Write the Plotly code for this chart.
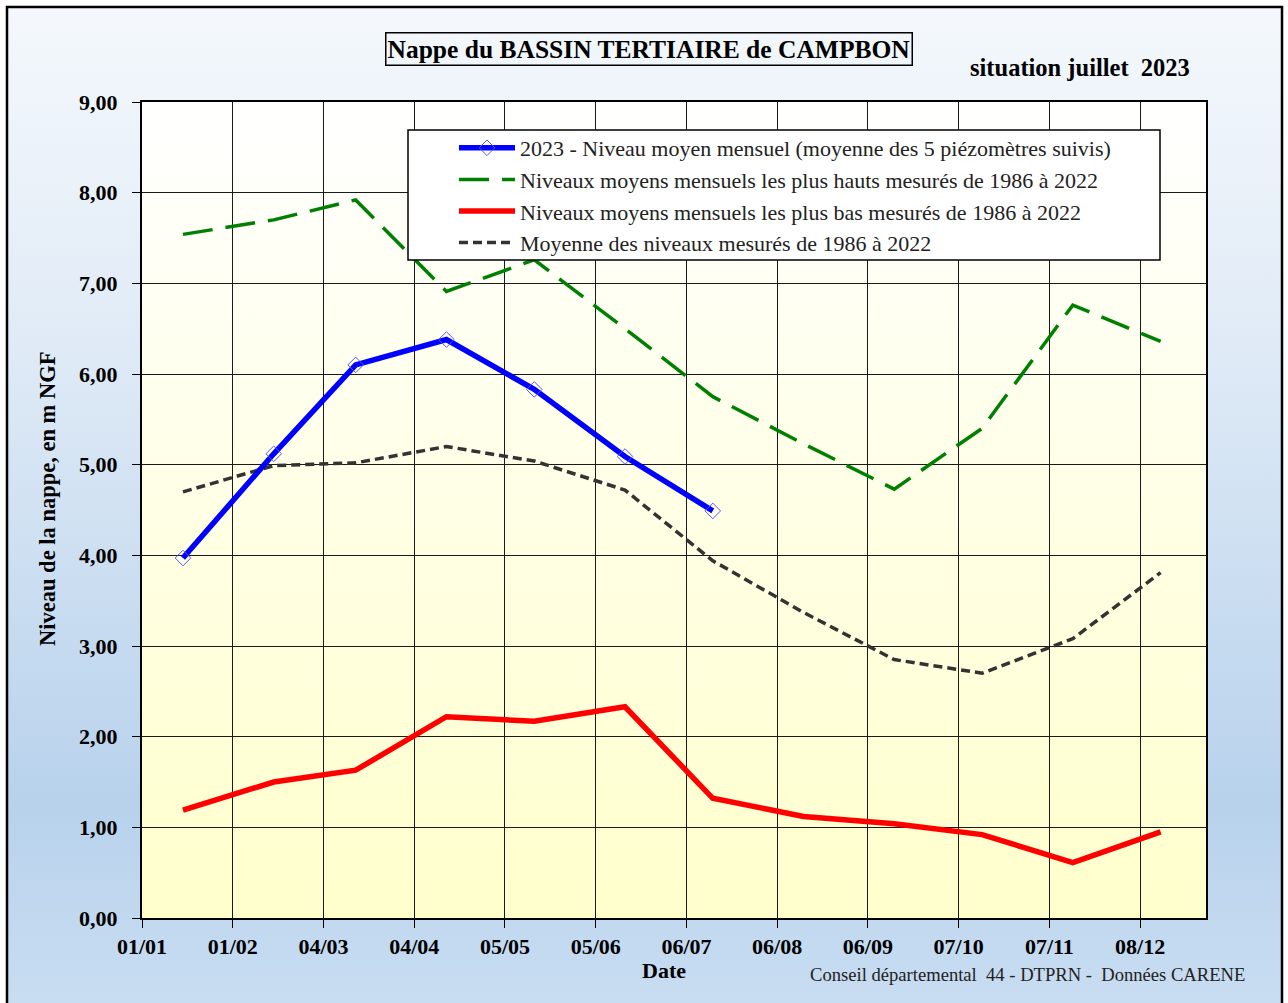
import base64
import plotly.graph_objects as go

# ---------------- data ----------------
month_dates = ['2023-01-15', '2023-02-15', '2023-03-15', '2023-04-15', '2023-05-15', '2023-06-15',
               '2023-07-15', '2023-08-15', '2023-09-15', '2023-10-15', '2023-11-15', '2023-12-15']
niveau_2023 = [3.97, 5.12, 6.10, 6.38, 5.83, 5.09, 4.49]
niveaux_max = [7.54, 7.70, 7.92, 6.91, 7.26, 6.50, 5.75, 5.23, 4.73, 5.40, 6.76, 6.36]
niveaux_min = [1.19, 1.50, 1.63, 2.22, 2.17, 2.33, 1.32, 1.12, 1.04, 0.92, 0.61, 0.95]
niveaux_moy = [4.70, 4.99, 5.02, 5.20, 5.04, 4.72, 3.94, 3.37, 2.85, 2.70, 3.08, 3.81]

tick_dates = ['2023-01-01', '2023-02-01', '2023-03-04', '2023-04-04', '2023-05-05', '2023-06-05',
              '2023-07-06', '2023-08-06', '2023-09-06', '2023-10-07', '2023-11-07', '2023-12-08']
tick_labels = ['01/01', '01/02', '04/03', '04/04', '05/05', '05/06',
               '06/07', '06/08', '06/09', '07/10', '07/11', '08/12']
y_ticks = [0, 1, 2, 3, 4, 5, 6, 7, 8, 9]

names = ['2023 - Niveau moyen mensuel (moyenne des 5 piézomètres suivis)',
         'Niveaux moyens mensuels les plus hauts mesurés de 1986 à 2022',
         'Niveaux moyens mensuels les plus bas mesurés de 1986 à 2022',
         'Moyenne des niveaux mesurés de 1986 à 2022']

SERIF = 'Liberation Serif, Times New Roman, serif'
W, H = 1288, 1003
L, R, T, B = 142, 1206, 102, 918
PW, PH = R - L, B - T


def px(xp):
    return (xp - L) / PW


def py(yp):
    return (B - yp) / PH


# background (gradients) as an SVG image
svg = f'''<svg xmlns="http://www.w3.org/2000/svg" width="{W}" height="{H}" viewBox="0 0 {W} {H}" preserveAspectRatio="none">
<defs>
<linearGradient id="o" x1="0" y1="0" x2="0" y2="1">
<stop offset="0" stop-color="#f4f8fc"/><stop offset="0.3" stop-color="#e2ecf7"/>
<stop offset="0.78" stop-color="#b8d2ec"/><stop offset="1" stop-color="#cadef2"/></linearGradient>
<linearGradient id="p" x1="0" y1="0" x2="0" y2="1">
<stop offset="0" stop-color="#ffffff"/><stop offset="1" stop-color="#ffffcc"/></linearGradient>
</defs>
<rect width="{W}" height="{H}" fill="#ffffff"/>
<rect x="7" y="7" width="1275" height="1020" fill="url(#o)" stroke="#000" stroke-width="2.5"/>
<rect x="{L}" y="{T}" width="{PW}" height="{PH}" fill="url(#p)"/>
</svg>'''
svg_uri = 'data:image/svg+xml;base64,' + base64.b64encode(svg.encode()).decode()

fig = go.Figure()

fig.add_trace(go.Scatter(x=month_dates, y=niveaux_moy, name=names[3], mode='lines', legendrank=4,
                         line=dict(color='#333333', width=3.5, dash='9px,5px')))
fig.add_trace(go.Scatter(x=month_dates, y=niveaux_max, name=names[1], mode='lines', legendrank=2,
                         line=dict(color='#008000', width=3.5, dash='30px,13px')))
fig.add_trace(go.Scatter(x=month_dates, y=niveaux_min, name=names[2], mode='lines', legendrank=3,
                         line=dict(color='#ff0000', width=5.5)))
fig.add_trace(go.Scatter(x=month_dates[:len(niveau_2023)], y=niveau_2023, name=names[0],
                         mode='lines+markers', legendrank=1,
                         line=dict(color='#0000ff', width=5.5),
                         marker=dict(symbol='diamond-open', size=12, color='#5555ff',
                                     line=dict(width=1, color='#5555ff'))))

axis_font = dict(family=SERIF, size=22, color='#000000', weight='bold')

fig.update_layout(
    width=W, height=H,
    margin=dict(l=L, r=W - R, t=T, b=H - B, pad=0),
    paper_bgcolor='rgba(0,0,0,0)',
    plot_bgcolor='rgba(0,0,0,0)',
    separators=', ',
    showlegend=True,
    legend=dict(x=px(454), y=py(127), xanchor='left', yanchor='top',
                bgcolor='rgba(0,0,0,0)', borderwidth=0, itemwidth=56,
                font=dict(family=SERIF, size=22, color='#222222'),
                itemclick=False, itemdoubleclick=False),
    xaxis=dict(type='date', range=['2023-01-01', '2023-12-30 12:00'],
               tickmode='array', tickvals=tick_dates, ticktext=tick_labels,
               ticks='outside', ticklen=8, tickcolor='#000', tickwidth=1,
               tickfont=axis_font, showgrid=True, gridcolor='#1a1a1a', gridwidth=1,
               showline=True, linecolor='#000', linewidth=2, mirror=True, zeroline=False),
    yaxis=dict(range=[0, 9], tickmode='array', tickvals=y_ticks, tickformat='.2f',
               ticks='outside', ticklen=8, tickcolor='#000', tickwidth=1, ticklabelstandoff=10,
               tickfont=axis_font, showgrid=True, gridcolor='#1a1a1a', gridwidth=1,
               showline=True, linecolor='#000', linewidth=2, mirror=True, zeroline=False),
    images=[dict(source=svg_uri, xref='paper', yref='paper', x=px(0), y=py(0),
                 sizex=W / PW, sizey=H / PH, xanchor='left', yanchor='top',
                 sizing='stretch', layer='below')],
    shapes=[dict(type='rect', xref='paper', yref='paper', x0=px(408), x1=px(1160),
                 y0=py(260), y1=py(130), fillcolor='#ffffff',
                 line=dict(color='#000', width=1.5), layer='above')],
    annotations=[
        dict(text='Nappe du BASSIN TERTIAIRE de CAMPBON', xref='paper', yref='paper',
             x=px(648.5), y=py(49.5), xanchor='center', yanchor='middle', showarrow=False,
             font=dict(family=SERIF, size=25.5, color='#000', weight='bold'),
             bordercolor='#000', borderwidth=1.5, borderpad=1),
        dict(text='situation juillet  2023', xref='paper', yref='paper',
             x=px(1080), y=py(68), xanchor='center', yanchor='middle', showarrow=False,
             font=dict(family=SERIF, size=24.5, color='#000', weight='bold')),
        dict(text='Date', xref='paper', yref='paper',
             x=px(664), y=py(970), xanchor='center', yanchor='middle', showarrow=False,
             font=dict(family=SERIF, size=22, color='#000', weight='bold')),
        dict(text='Niveau de la nappe, en m NGF', xref='paper', yref='paper', textangle=-90,
             x=px(47), y=py(499), xanchor='center', yanchor='middle', showarrow=False,
             font=dict(family=SERIF, size=22.5, color='#000', weight='bold')),
        dict(text='Conseil départemental  44 - DTPRN -  Données CARENE', xref='paper', yref='paper',
             x=px(1027), y=py(974), xanchor='center', yanchor='middle', showarrow=False,
             font=dict(family=SERIF, size=18.6, color='#222222')),
    ],
)

fig.write_html('out.html', config={'displayModeBar': False},
               post_script="document.body.style.margin='0';document.body.style.overflow='hidden';")
